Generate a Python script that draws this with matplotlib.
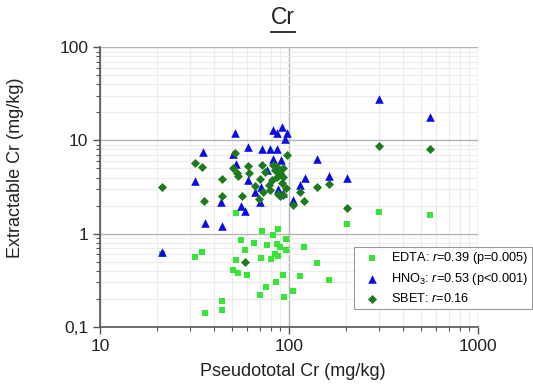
import matplotlib
matplotlib.use('Agg')
import matplotlib.pyplot as plt
from matplotlib.ticker import FixedLocator, FuncFormatter, LogLocator, NullFormatter
from matplotlib.lines import Line2D

plt.rcParams['font.family'] = ['Liberation Sans', 'DejaVu Sans']
plt.rcParams['mathtext.fontset'] = 'custom'
plt.rcParams['mathtext.rm'] = 'Liberation Sans'
plt.rcParams['mathtext.it'] = 'Liberation Sans:italic'

# datos (mg/kg)
edta_x = [21.3, 31.8, 34.6, 35.9, 44.2, 44.2, 50.6, 52.4, 52.4, 53.7, 55.7, 58.2, 60.3,
          65.7, 70.2, 71.1, 72.0, 75.5, 76.2, 80.8, 82.6, 84.3, 85.3, 87.1, 86.1, 87.8,
          90.2, 92.9, 94.7, 96.2, 97.0, 105, 115, 120, 140, 162, 202, 299, 557]
edta_y = [0.60, 0.56, 0.64, 0.14, 0.19, 0.15, 0.41, 1.67, 0.52, 0.38, 0.85, 0.66, 0.36,
          0.80, 0.22, 0.55, 1.06, 0.27, 0.75, 0.54, 0.96, 0.61, 0.30, 1.11, 0.78, 0.57,
          0.71, 0.36, 0.21, 0.66, 0.87, 0.24, 0.35, 0.72, 0.48, 0.32, 1.28, 1.71, 1.60]

hno3_x = [21.2, 31.9, 34.9, 35.9, 43.9, 44.0, 50.5, 52.1, 52.6, 55.7, 58.5, 60.9, 60.9,
          65.9, 70.5, 71.3, 71.7, 76.2, 79.8, 82.6, 82.6, 86.1, 86.9, 87.8, 90.7, 92.2,
          93.3, 95.6, 98.2, 105.4, 114.8, 121.1, 140.2, 162.2, 202, 299, 557]
hno3_y = [0.63, 3.7, 7.5, 1.29, 2.2, 1.2, 7.1, 11.9, 5.6, 2.0, 1.75, 8.5, 3.8,
          2.8, 2.2, 3.2, 8.1, 4.8, 8.0, 12.8, 6.3, 8.0, 12.1, 3.0, 6.1, 14.1,
          2.7, 10.3, 12.0, 2.3, 3.3, 4.0, 6.3, 4.2, 4.0, 27.8, 17.7]

sbet_x = [21.3, 31.8, 34.8, 35.7, 44.2, 44.2, 52.1, 50.8, 53.4, 53.9, 56.1, 58.5, 60.9,
          61.4, 66.1, 69.8, 71.7, 73.1, 74.6, 78.8, 81.0, 79.3, 82.6, 84.3, 86.1, 86.1,
          89.6, 92.6, 91.4, 87.8, 89.6, 93.3, 97.1, 96.4, 92.6, 105.4, 115.1, 120.8,
          140.2, 162.8, 202, 299, 557, 70.2]
sbet_y = [3.19, 5.74, 5.20, 2.22, 3.90, 2.52, 7.36, 5.04, 4.51, 4.13, 2.52, 0.50, 5.29,
          4.42, 3.23, 2.34, 5.43, 2.80, 4.59, 3.31, 3.74, 2.97, 5.43, 4.79, 4.06, 5.20,
          4.42, 5.04, 3.45, 2.69, 2.52, 2.58, 7.00, 3.11, 4.06, 2.02, 2.78, 2.25,
          3.20, 3.37, 1.90, 8.75, 8.06, 3.90]

etiquetas = ['EDTA: $\\it{r}$=0.39 (p=0.005)',
             'HNO$_3$: $\\it{r}$=0.53 (p<0.001)',
             'SBET: $\\it{r}$=0.16']

fig = plt.figure(figsize=(5.33, 3.85), dpi=100)
ax = fig.add_axes([0.1876, 0.1514, 0.709, 0.7257])

ax.scatter(edta_x, edta_y, marker='s', s=20, color='#35e635', linewidths=0, label=etiquetas[0], zorder=3)
ax.scatter(hno3_x, hno3_y, marker='^', s=38, color='#0a0ae6', linewidths=0, label=etiquetas[1], zorder=4)
ax.scatter(sbet_x, sbet_y, marker='D', s=21, color='#1c7a1c', linewidths=0, label=etiquetas[2], zorder=5)

ax.set_xscale('log')
ax.set_yscale('log')
ax.set_xlim(10, 1000)
ax.set_ylim(0.1, 100)

ax.xaxis.set_major_locator(FixedLocator([10, 100, 1000]))
ax.xaxis.set_minor_locator(LogLocator(base=10, subs=range(2, 10)))
ax.yaxis.set_major_locator(FixedLocator([0.1, 1, 10, 100]))
ax.yaxis.set_minor_locator(LogLocator(base=10, subs=range(2, 10)))
ax.xaxis.set_minor_formatter(NullFormatter())
ax.yaxis.set_minor_formatter(NullFormatter())
ax.xaxis.set_major_formatter(FuncFormatter(lambda v, p: f'{v:g}'))
ax.yaxis.set_major_formatter(FuncFormatter(lambda v, p: f'{v:g}'.replace('.', ',')))

ax.grid(True, which='major', color='#b4b4b4', lw=1.0)
ax.grid(True, which='minor', color='#ececec', lw=0.8)
ax.set_axisbelow(True)

for lado in ['top', 'right']:
    ax.spines[lado].set_visible(False)
for lado in ['left', 'bottom']:
    ax.spines[lado].set_color('#555555')
    ax.spines[lado].set_linewidth(1.2)

ax.tick_params(which='major', direction='out', length=5, width=1, color='#555555',
               labelsize=12.5, labelcolor='#222222')
ax.tick_params(which='minor', direction='out', length=3, width=0.8, color='#555555')

ax.set_xlabel('Pseudototal Cr (mg/kg)', fontsize=13, color='#222222')
ax.set_ylabel('Extractable Cr (mg/kg)', fontsize=13, color='#222222')
ax.xaxis.set_label_coords(0.51, -0.13)
ax.yaxis.set_label_coords(-0.2, 0.57)

# leyenda (en la original queda cortada en el borde; aqui se ajusta para que quepa)
leg = ax.legend(loc='upper left', bbox_to_anchor=(354 / 533, 1 - 246.7 / 385),
                bbox_transform=fig.transFigure, borderaxespad=0, fontsize=9.2,
                scatterpoints=1, fancybox=False, framealpha=1, edgecolor='#999999',
                handlelength=2.3, handletextpad=0.3, labelspacing=0.4, borderpad=0.28)
leg.get_frame().set_linewidth(0.8)

# titulo subrayado
titulo = fig.text(283 / 533, 1 - 18 / 385, 'Cr', ha='center', va='center', fontsize=16.5, color='#222222')
fig.canvas.draw()
bb = titulo.get_window_extent()
y_sub = bb.y0 - 2
fig.add_artist(Line2D([bb.x0, bb.x1], [y_sub, y_sub], transform=None, color='#222222', lw=1.3))

plt.savefig('out.png', dpi=100)
